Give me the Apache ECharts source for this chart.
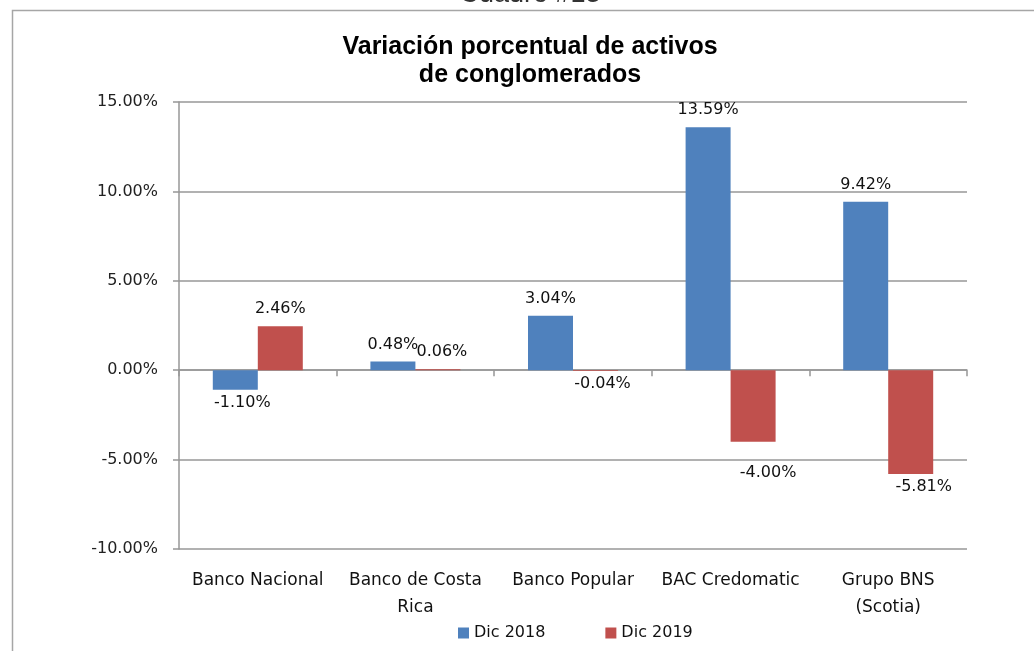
<!DOCTYPE html>
<html>
<head>
<meta charset="utf-8">
<script src="https://cdn.jsdelivr.net/npm/echarts@6/dist/echarts.min.js"></script>
<style>
  html, body { margin: 0; padding: 0; background: #fff; }
  #chart { width: 1034px; height: 651px; }
</style>
</head>
<body>
<div id="chart"></div>
<script>
const categories = ["Banco Nacional", "Banco de Costa\nRica", "Banco Popular", "BAC Credomatic", "Grupo BNS\n(Scotia)"];
const dic2018 = [-1.10, 0.48, 3.04, 13.59, 9.42];
const dic2019 = [2.46, 0.06, -0.04, -4.00, -5.81];
const yTicks = { min: -10, max: 15, step: 5 };

const gridColor = "#979797";
const font = "DejaVu Sans";

// Excel-style outside-end labels: above positive bars, below negative ones
const toItems = (values, nudges) => values.map((v, i) => ({
    value: v,
    label: v < 0
        ? { position: "bottom", distance: 5, offset: nudges[i] || [7, 0] }
        : { position: "top", distance: 9, offset: nudges[i] || [0, 0] }
}));

const chart = echarts.init(document.getElementById("chart"));
chart.setOption({
    animation: false,
    backgroundColor: "#fff",
    textStyle: { fontFamily: font },
    graphic: [
        {
            type: "rect",
            shape: { x: 12.5, y: 10.5, width: 1200, height: 800 },
            style: { fill: "none", stroke: "#a6a6a6", lineWidth: 1.5 },
            silent: true
        },
        {
            type: "text",
            x: 530, y: 8,
            style: {
                text: "Cuadro #13",
                font: "27px 'Liberation Sans'",
                fill: "#333",
                align: "center",
                verticalAlign: "bottom"
            },
            silent: true
        }
    ],
    title: {
        text: "Variación porcentual de activos\nde conglomerados",
        left: 525,
        top: 28,
        textAlign: "center",
        textStyle: {
            fontFamily: "Liberation Sans",
            fontSize: 25,
            fontWeight: "bold",
            color: "#000",
            lineHeight: 28
        }
    },
    legend: {
        left: 453,
        top: 620,
        icon: "rect",
        itemWidth: 11,
        itemHeight: 11,
        itemGap: 60,
        textStyle: { fontFamily: font, fontSize: 16, color: "#111" },
        data: ["Dic 2018", "Dic 2019"]
    },
    grid: { left: 179, right: 67, top: 102, bottom: 102 },
    xAxis: [
        {
            type: "category",
            data: categories,
            position: "bottom",
            axisLine: { show: false, onZero: false },
            axisTick: { show: false },
            axisLabel: {
                fontFamily: font,
                fontSize: 17,
                color: "#111",
                margin: 18,
                lineHeight: 27,
                interval: 0
            }
        },
        {
            type: "category",
            data: categories,
            position: "bottom",
            axisLine: { onZero: true, lineStyle: { color: gridColor, width: 1.5 } },
            axisTick: { show: true, length: 6, lineStyle: { color: gridColor, width: 1.5 } },
            axisLabel: { show: false }
        }
    ],
    yAxis: {
        type: "value",
        min: yTicks.min,
        max: yTicks.max,
        interval: yTicks.step,
        axisLine: { show: true, lineStyle: { color: gridColor, width: 1.5 } },
        axisTick: { show: true, length: 6, lineStyle: { color: gridColor, width: 1.5 } },
        splitLine: { lineStyle: { color: gridColor, width: 1.5 } },
        axisLabel: {
            fontFamily: font,
            fontSize: 16,
            color: "#222",
            margin: 21,
            formatter: v => v.toFixed(2) + "%"
        }
    },
    series: [
        {
            name: "Dic 2018",
            type: "bar",
            xAxisIndex: 0,
            barWidth: 45,
            barGap: "0%",
            itemStyle: { color: "#4F81BD" },
            label: {
                show: true,
                fontFamily: font,
                fontSize: 16,
                color: "#111",
                formatter: p => p.value.toFixed(2) + "%"
            },
            data: toItems(dic2018, {})
        },
        {
            name: "Dic 2019",
            type: "bar",
            xAxisIndex: 0,
            barWidth: 45,
            barGap: "0%",
            itemStyle: { color: "#C0504D" },
            label: {
                show: true,
                fontFamily: font,
                fontSize: 16,
                color: "#111",
                formatter: p => p.value.toFixed(2) + "%"
            },
            data: toItems(dic2019, { 1: [4, 0], 3: [15, 18], 4: [13, 0] })
        }
    ]
});
</script>
</body>
</html>
